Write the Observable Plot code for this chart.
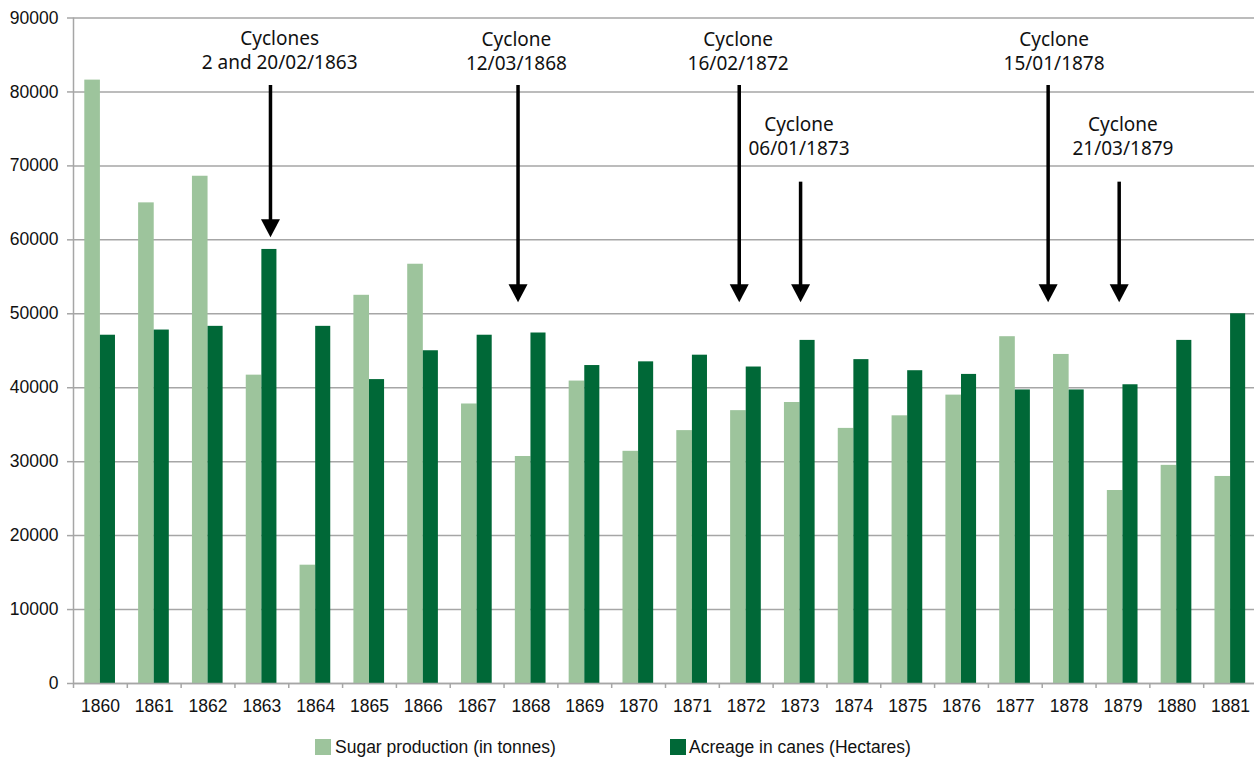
<!DOCTYPE html>
<html><head><meta charset="utf-8">
<script src="https://cdn.jsdelivr.net/npm/d3@7"></script>
<script src="https://cdn.jsdelivr.net/npm/@observablehq/plot@0.6"></script>
<style>
html,body{margin:0;padding:0;background:#fff;overflow:hidden;width:1254px;height:758px}
#wrap{position:relative;width:1254px;height:758px}
#chart svg{overflow:hidden}
.leg{position:absolute;top:736.5px;height:20px;line-height:20px;font-family:"Liberation Sans",Arial,sans-serif;font-size:17.5px;color:#111;display:flex;align-items:center;white-space:nowrap}
.sw{width:16px;height:16px;display:inline-block}
</style></head><body><div id="wrap"><div id="chart"></div></div>
<script>
// ---- data ----
const years = [1860,1861,1862,1863,1864,1865,1866,1867,1868,1869,1870,1871,1872,1873,1874,1875,1876,1877,1878,1879,1880,1881];
const sugar = [81600,65000,68600,41700,16000,52500,56700,37800,30700,40900,31400,34200,36900,38000,34500,36200,39000,46900,44500,26100,29500,28000];
const acreage = [47100,47800,48300,58700,48300,41100,45000,47100,47400,43000,43500,44400,42800,46400,43800,42300,41800,39700,39700,40400,46400,50000];
const yTicks = [0,10000,20000,30000,40000,50000,60000,70000,80000,90000];
const seriesNames = ["Sugar production (in tonnes)", "Acreage in canes (Hectares)"];
const cycloneLabels = ["Cyclones\n2 and 20/02/1863","Cyclone\n12/03/1868","Cyclone\n16/02/1872","Cyclone\n06/01/1873","Cyclone\n15/01/1878","Cyclone\n21/03/1879"];
const cycloneArrowX = [1863.16,1867.76,1871.87,1873.01,1877.61,1878.93];
const cycloneArrowTop = [80875,80875,80875,67800,80875,67800];
const cycloneArrowTip = [60360,51570,51570,51570,51570,51570];
const cycloneLabelX = [1863.33,1867.73,1871.85,1872.98,1877.72,1879.00];
const cycloneLabelY = [85810,85620,85620,74150,85620,74150];

const LIGHT = "#9dc49c", DARK = "#006837", GRID = "#a6a6a6";
const idx = years.map((_, i) => i);
const cidx = cycloneLabels.map((_, i) => i);
const boundaries = [years[0] - 0.5, ...years.map(y => y + 0.5)];

const downTriangle = {
  draw(ctx) { ctx.moveTo(0, 0); ctx.lineTo(-9.5, -18); ctx.lineTo(9.5, -18); ctx.closePath(); }
};

const chart = Plot.plot({
  width: 1254, height: 725,
  marginTop: 17.5, marginBottom: 42, marginLeft: 73, marginRight: -3,
  x: {type: "linear", domain: [1859.5, 1881.5], range: [73, 1257], axis: null},
  y: {domain: [0, 90000], range: [683, 17.5], axis: null},
  style: {fontFamily: "'Liberation Sans', Arial, sans-serif", fontSize: "17.5px", color: "#111", background: "#fff"},
  marks: [
    Plot.gridY(yTicks, {stroke: GRID, strokeOpacity: 1, strokeWidth: 1.5}),
    Plot.rect(idx, {x1: i => years[i] - 0.29, x2: i => years[i], y1: 0, y2: i => sugar[i], fill: LIGHT}),
    Plot.rect(idx, {x1: i => years[i], x2: i => years[i] + 0.28, y1: 0, y2: i => acreage[i], fill: DARK}),
    Plot.axisY(yTicks, {tickSize: 6, tickPadding: 9, tickFormat: d => String(d), stroke: GRID, strokeWidth: 1.5, fill: "#111", fontSize: 17.5}),
    Plot.ruleX([1859.5], {stroke: GRID, strokeWidth: 1.5}),
    Plot.ruleY([0], {stroke: GRID, strokeWidth: 1.5}),
    Plot.axisX(boundaries, {tickSize: 5, tickFormat: () => "", stroke: GRID, strokeWidth: 1.5}),
    Plot.axisX(years, {tickSize: 0, tickPadding: 15.7, tickFormat: d => String(d), fill: "#111", fontSize: 17.5}),
    Plot.ruleX(cidx, {x: i => cycloneArrowX[i], y1: i => cycloneArrowTop[i], y2: i => cycloneArrowTip[i] + 1200, stroke: "#000", strokeWidth: 3.5}),
    Plot.dot(cidx, {x: i => cycloneArrowX[i], y: i => cycloneArrowTip[i], symbol: downTriangle, r: 5, fill: "#000", stroke: "none"}),
    Plot.text(cidx, {x: i => cycloneLabelX[i], y: i => cycloneLabelY[i], text: i => cycloneLabels[i], lineAnchor: "middle", lineHeight: 1.29, fontFamily: "'Noto Sans', sans-serif", fontSize: 19, fill: "#111"})
  ]
});
document.getElementById("chart").appendChild(chart);

const wrap = document.getElementById("wrap");
const legendDefs = [
  {name: seriesNames[0], color: LIGHT, left: 315, gap: 4},
  {name: seriesNames[1], color: DARK, left: 670, gap: 3}
];
for (const l of legendDefs) {
  const d = document.createElement("div");
  d.className = "leg";
  d.style.left = l.left + "px";
  const sw = document.createElement("span");
  sw.className = "sw"; sw.style.background = l.color; sw.style.marginRight = l.gap + "px";
  const t = document.createElement("span");
  t.textContent = l.name;
  d.appendChild(sw); d.appendChild(t);
  wrap.appendChild(d);
}
</script></body></html>
